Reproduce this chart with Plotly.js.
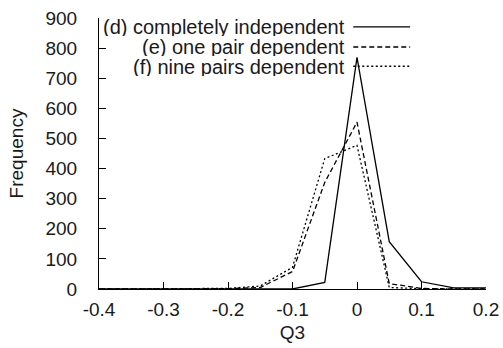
<!DOCTYPE html>
<html>
<head>
<meta charset="utf-8">
<script src="https://cdn.plot.ly/plotly-3.0.1.min.js"></script>
<style>html,body{margin:0;padding:0;background:#fff;}#chart{width:503px;height:348px;}</style>
</head>
<body>
<div id="chart"></div>
<script>
// Bin centres of Q3
var q3 = [-0.4, -0.35, -0.3, -0.25, -0.2, -0.15, -0.1, -0.05, 0, 0.05, 0.1, 0.15, 0.2];
// (d) completely independent
var freqD = [0, 0, 0, 0, 0, 0, 0, 22, 769, 157, 24, 4, 4];
// (e) one pair dependent
var freqE = [0, 0, 0, 0, 1, 5, 58, 354, 554, 18, 2, 0, 0];
// (f) nine pairs dependent
var freqF = [0, 0, 0, 0, 2, 10, 72, 433, 477, 5, 1, 0, 0];
// y tick values
var yTicks = [0, 100, 200, 300, 400, 500, 600, 700, 800, 900];

var seriesNames = ['(d) completely independent', '(e) one pair dependent', '(f) nine pairs dependent'];
var dashes = ['solid', '5px,3px', '2px,2.5px'];
var seriesData = [freqD, freqE, freqF];

var traces = seriesData.map(function (ys, i) {
  return {
    x: q3, y: ys, type: 'scatter', mode: 'lines', name: seriesNames[i],
    line: {color: '#000', width: 1.3, dash: dashes[i]}, showlegend: false
  };
});
// invisible companion trace so the label axis is drawn
traces.push({x: q3, y: freqD, yaxis: 'y2', type: 'scatter', mode: 'lines',
  line: {color: 'rgba(0,0,0,0)', width: 0}, hoverinfo: 'skip', showlegend: false});

var font = {family: 'Liberation Sans, Arial, Helvetica, sans-serif', color: '#1a1a1a'};
var legendX = 0.638, lineX0 = 0.657, lineX1 = 0.804;
var legendY = [0.967, 0.893, 0.822];
var annotations = [], shapes = [];
seriesNames.forEach(function (n, i) {
  annotations.push({xref: 'paper', yref: 'paper', x: legendX, y: legendY[i], text: n, showarrow: false,
    xanchor: 'right', yanchor: 'middle', height: 19, borderpad: 0,
    font: Object.assign({size: 20}, font)});
  shapes.push({type: 'line', xref: 'paper', yref: 'paper', x0: lineX0, x1: lineX1, y0: legendY[i], y1: legendY[i],
    line: {color: '#000', width: 1.3, dash: dashes[i]}});
});

var layout = {
  width: 503, height: 348,
  margin: {l: 99, r: 17, t: 18, b: 59},
  paper_bgcolor: '#fff', plot_bgcolor: '#fff',
  font: Object.assign({size: 19}, font),
  xaxis: {
    range: [-0.4, 0.2], tickvals: [-0.4, -0.3, -0.2, -0.1, 0, 0.1, 0.2],
    ticktext: ['-0.4', '-0.3', '-0.2', '-0.1', '0', '0.1', '0.2'],
    ticks: 'inside', ticklen: 7, tickwidth: 1, tickcolor: '#000', ticklabelstandoff: 3,
    showline: true, linecolor: '#000', linewidth: 1.3, showgrid: false, zeroline: false,
    tickfont: Object.assign({size: 19}, font),
    title: {text: 'Q3', font: Object.assign({size: 19}, font), standoff: 6}
  },
  yaxis: {
    range: [0, 900], tickvals: yTicks, showticklabels: false,
    ticks: 'inside', ticklen: 7, tickwidth: 1, tickcolor: '#000',
    showline: true, linecolor: '#000', linewidth: 1.3, showgrid: false, zeroline: false
  },
  yaxis2: {
    overlaying: 'y', side: 'left', anchor: 'x', range: [0, 900], tickvals: yTicks,
    ticks: 'outside', ticklen: 17, tickwidth: 1, tickcolor: 'rgba(0,0,0,0)',
    showline: false, showgrid: false, zeroline: false,
    tickfont: Object.assign({size: 19}, font),
    title: {text: 'Frequency', font: Object.assign({size: 19}, font), standoff: 16}
  },
  annotations: annotations, shapes: shapes, showlegend: false
};

Plotly.newPlot('chart', traces, layout, {displayModeBar: false, staticPlot: true});
</script>
</body>
</html>
